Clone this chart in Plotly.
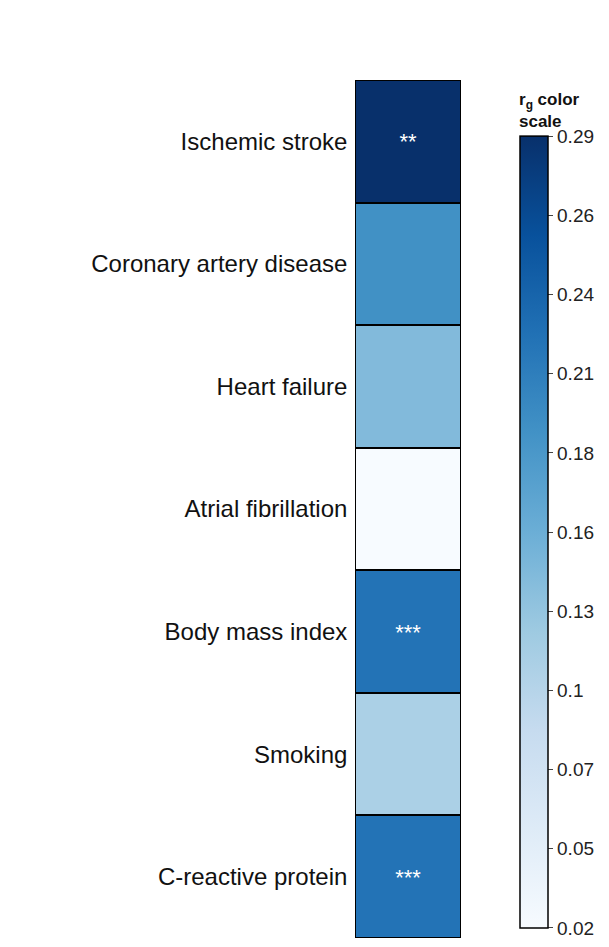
import numpy as np
import plotly.graph_objects as go

# trait names and genetic correlations (top to bottom)
traits = ["Ischemic stroke", "Coronary artery disease", "Heart failure",
          "Atrial fibrillation", "Body mass index", "Smoking", "C-reactive protein"]
rg = [0.29, 0.19, 0.14, 0.02, 0.22, 0.11, 0.22]
stars = ["**", "", "", "", "***", "", "***"]
tick_text = ["0.02", "0.05", "0.07", "0.1", "0.13", "0.16", "0.18", "0.21", "0.24", "0.26", "0.29"]

fig = go.Figure(go.Heatmap(
    z=[[v] for v in rg],
    x=["r"],
    y=traits,
    text=[[s] for s in stars],
    texttemplate="%{text}",
    textfont=dict(color="white", size=22, family="Liberation Sans"),
    colorscale="Blues",
    zmin=0.02, zmax=0.29,
    xgap=2, ygap=2,
    colorbar=dict(
        title=dict(text="<b>r<sub>g</sub> color<br>scale</b>", side="top",
                   font=dict(size=17, family="Liberation Sans")),
        tickvals=np.linspace(0.02, 0.29, 11), ticktext=tick_text,
        ticks="outside", ticklen=5,
        thickness=28, len=1.0, lenmode="fraction", y=0.0, yanchor="bottom",
        x=1.46, xanchor="left",
        outlinewidth=1.5, outlinecolor="black",
        tickfont=dict(size=19, family="Liberation Sans", color="#222"),
    ),
))

fig.update_layout(
    width=609, height=947,
    plot_bgcolor="black",
    paper_bgcolor="white",
    margin=dict(l=347, r=139, t=72, b=17),
    font=dict(family="Liberation Sans", size=24, color="#111"),
)
fig.update_xaxes(visible=False)
fig.update_yaxes(autorange="reversed", ticks="", showgrid=False, ticksuffix=" ")

fig.write_html("out.html")
